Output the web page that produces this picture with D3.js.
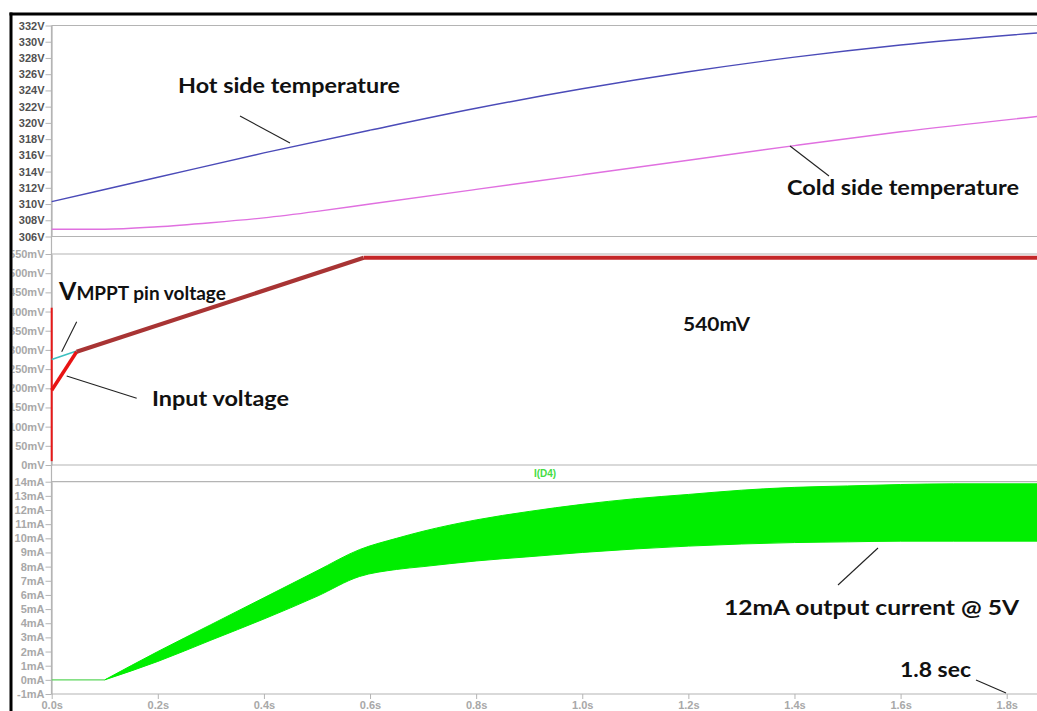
<!DOCTYPE html>
<html>
<head>
<meta charset="utf-8">
<script src="https://cdn.jsdelivr.net/npm/d3@7"></script>
<style>
  html, body { margin: 0; padding: 0; background: #fff; }
  svg { display: block; }
  .tick text { font-family: "Liberation Sans", Arial, sans-serif; font-size: 11px; font-weight: bold; }
  .note { font-family: Lato, "Open Sans", sans-serif; font-weight: bold; fill: #111; }
</style>
</head>
<body>
<svg id="chart" width="1037" height="711"></svg>
<script>
// ---- Time axis ----
const timeTicks = [0, 0.2, 0.4, 0.6, 0.8, 1.0, 1.2, 1.4, 1.6, 1.8];

// ---- Panel 1: thermal node voltages (V) ----
const tempTicks = [306, 308, 310, 312, 314, 316, 318, 320, 322, 324, 326, 328, 330, 332];
const hotT   = [0, 0.2, 0.4, 0.6, 0.8, 1.0, 1.2, 1.4, 1.6, 1.86];
const hotV   = [310.3, 313.3, 316.3, 319.1, 321.8, 324.2, 326.3, 328.1, 329.6, 331.1];
const coldT  = [0, 0.1, 0.2, 0.3, 0.4, 0.5, 0.6, 0.8, 1.0, 1.2, 1.4, 1.6, 1.86];
const coldV  = [306.9, 306.9, 307.2, 307.7, 308.3, 309.1, 310.0, 311.8, 313.6, 315.4, 317.2, 318.9, 320.8];

// ---- Panel 2: input / VMPPT voltage (mV) ----
const mvTicks  = [0, 50, 100, 150, 200, 250, 300, 350, 400, 450, 500, 550];
const spikeT   = [0, 0];
const spikeV   = [10, 410];
const mpptT    = [0, 0.047];
const mpptV    = [275, 297];
const vinEarlyT = [0, 0.047];
const vinEarlyV = [195, 295];
const vinRampT = [0.047, 0.588];
const vinRampV = [295, 540];
const vinFlatT = [0.588, 1.86];
const vinFlatV = [540, 540];

// ---- Panel 3: I(D4) output current (mA) ----
const maTicks = [-1, 0, 1, 2, 3, 4, 5, 6, 7, 8, 9, 10, 11, 12, 13, 14];
const idleT = [0, 0.1];
const idleI = [0, 0];
const bandT  = [0.1, 0.2, 0.3, 0.4, 0.5, 0.58, 0.65, 0.7, 0.8, 0.9, 1.0, 1.1, 1.2, 1.3, 1.4, 1.5, 1.6, 1.7, 1.86];
const bandHi = [0, 2.0, 3.9, 5.8, 7.7, 9.2, 10.0, 10.5, 11.3, 11.9, 12.4, 12.8, 13.1, 13.4, 13.6, 13.7, 13.8, 13.85, 13.85];
const bandLo = [0, 1.3, 2.8, 4.3, 5.9, 7.3, 7.8, 8.0, 8.4, 8.7, 9.0, 9.25, 9.45, 9.6, 9.7, 9.75, 9.8, 9.8, 9.8];

const W = 1037, H = 711;
const svg = d3.select("#chart");

const x = d3.scaleLinear().domain([0, 1.8]).range([51.7, 1006.7]);
const yTemp = d3.scaleLinear().domain([306, 332]).range([236.5, 25.5]);
const yMv   = d3.scaleLinear().domain([0, 550]).range([465, 254]);
const yMa   = d3.scaleLinear().domain([-1, 14]).range([694, 481.7]);

const defs = svg.append("defs");
defs.append("clipPath").attr("id", "frameClip")
  .append("rect").attr("x", 12.5).attr("y", 15.5).attr("width", W).attr("height", H);
defs.append("clipPath").attr("id", "plotClip")
  .append("rect").attr("x", 50).attr("y", 15.5).attr("width", W).attr("height", H);

const root = svg.append("g").attr("clip-path", "url(#frameClip)");

const gridGray = "#b4b4b4";

// Panel frames (top and bottom edges; the left edge comes from each axis)
function panelFrame(y0, y1) {
  [y0, y1].forEach(yy => {
    root.append("line").attr("x1", 51.5).attr("x2", W + 5)
      .attr("y1", yy).attr("y2", yy)
      .attr("stroke", gridGray).attr("stroke-width", 1.2);
  });
}
panelFrame(yTemp(332), yTemp(306));
panelFrame(yMv(550), yMv(0));
panelFrame(yMa(14), yMa(-1));

function leftAxis(scale, values, fmt, color) {
  const g = root.append("g").attr("transform", "translate(51.5,0)")
    .call(d3.axisLeft(scale).tickValues(values).tickFormat(fmt).tickSize(6).tickPadding(1).tickSizeOuter(0));
  g.select(".domain").attr("stroke", gridGray).attr("stroke-width", 1.2);
  g.selectAll(".tick line").attr("stroke", gridGray);
  g.selectAll(".tick text").attr("fill", color);
  return g;
}
leftAxis(yTemp, tempTicks, d => d + "V", "#505050");
leftAxis(yMv, mvTicks, d => d + "mV", "#a8a8a8");
leftAxis(yMa, maTicks, d => d + "mA", "#a8a8a8");

const xg = root.append("g").attr("transform", `translate(0,${yMa(-1)})`)
  .call(d3.axisBottom(x).tickValues(timeTicks).tickFormat(d => d.toFixed(1) + "s").tickSize(5).tickPadding(2).tickSizeOuter(0));
xg.select(".domain").remove();
xg.selectAll(".tick line").attr("stroke", gridGray);
xg.selectAll(".tick text").attr("fill", "#a8a8a8");

// shared left edge of the three panels
root.append("line").attr("x1", 51.5).attr("x2", 51.5)
  .attr("y1", yTemp(332)).attr("y2", yMa(-1)).attr("stroke", gridGray).attr("stroke-width", 1.2);

const plot = root.append("g").attr("clip-path", "url(#plotClip)");

function pts(ts, vs) { return ts.map((t, i) => [t, vs[i]]); }

// ---- Temperature traces ----
const tempLine = d3.line().x(d => x(d[0])).y(d => yTemp(d[1])).curve(d3.curveMonotoneX);
plot.append("path").attr("d", tempLine(pts(hotT, hotV)))
  .attr("fill", "none").attr("stroke", "#4b4bb8").attr("stroke-width", 1.4);
plot.append("path").attr("d", tempLine(pts(coldT, coldV)))
  .attr("fill", "none").attr("stroke", "#e070e0").attr("stroke-width", 1.4);

// ---- Voltage traces ----
const mvLine = d3.line().x(d => x(d[0])).y(d => yMv(d[1]));
plot.append("path").attr("d", mvLine(pts(spikeT, spikeV)))
  .attr("fill", "none").attr("stroke", "#e81818").attr("stroke-width", 2);
plot.append("path").attr("d", mvLine(pts(mpptT, mpptV)))
  .attr("fill", "none").attr("stroke", "#3cc0c0").attr("stroke-width", 1.5);
plot.append("path").attr("d", mvLine(pts(vinEarlyT, vinEarlyV)))
  .attr("fill", "none").attr("stroke", "#e81414").attr("stroke-width", 3.5);
plot.append("path").attr("d", mvLine(pts(vinRampT, vinRampV)))
  .attr("fill", "none").attr("stroke", "#a83434").attr("stroke-width", 4.2);
plot.append("path").attr("d", mvLine(pts(vinFlatT, vinFlatV)))
  .attr("fill", "none").attr("stroke", "#c42628").attr("stroke-width", 4);

// ---- Output current ----
const maLine = d3.line().x(d => x(d[0])).y(d => yMa(d[1]));
plot.append("path").attr("d", maLine(pts(idleT, idleI)))
  .attr("fill", "none").attr("stroke", "#5cd65c").attr("stroke-width", 1.3);
const band = d3.area()
  .x(d => x(d[0])).y0(d => yMa(d[1])).y1(d => yMa(d[2]))
  .curve(d3.curveMonotoneX);
plot.append("path")
  .attr("d", band(bandT.map((t, i) => [t, bandLo[i], bandHi[i]])))
  .attr("fill", "#00ee00").attr("stroke", "#00ee00").attr("stroke-width", 1);

root.append("text").attr("x", 545).attr("y", 476.5).attr("text-anchor", "middle")
  .attr("font-family", "Liberation Sans, Arial, sans-serif").attr("font-size", 10)
  .attr("font-weight", "bold").attr("fill", "#44dd44").text("I(D4)");

// ---- Annotations ----
function note(txt, x0, base, size, width) {
  return root.append("text").attr("class", "note").attr("x", x0).attr("y", base)
    .attr("font-size", size).attr("textLength", width).attr("lengthAdjust", "spacingAndGlyphs").text(txt);
}
function pointer(x1, y1, x2, y2) {
  root.append("line").attr("x1", x1).attr("y1", y1).attr("x2", x2).attr("y2", y2)
    .attr("stroke", "#222").attr("stroke-width", 1.1);
}

note("Hot side temperature", 178, 93, 21, 222);
pointer(240, 116, 290, 143);

note("Cold side temperature", 787, 195, 21, 232);
pointer(790, 146, 829, 176);

const vm = root.append("text").attr("class", "note").attr("x", 59).attr("y", 300);
vm.append("tspan").attr("font-size", 25).text("V");
vm.append("tspan").attr("font-size", 19).text("MPPT pin voltage");
pointer(76.7, 321.7, 61.7, 351.7);

note("Input voltage", 152, 406, 21, 137);
pointer(66.7, 376, 136.7, 398.3);

note("540mV", 683, 331, 19, 67);

note("12mA output current @ 5V", 724, 615, 21, 295);
pointer(838, 585, 878, 548);

note("1.8 sec", 900, 677, 21, 71);
pointer(976, 680, 1006, 693);

// Outer black frame
svg.append("line").attr("x1", 9.5).attr("x2", W).attr("y1", 14).attr("y2", 14)
  .attr("stroke", "#000").attr("stroke-width", 3);
svg.append("line").attr("x1", 11).attr("x2", 11).attr("y1", 12.5).attr("y2", H)
  .attr("stroke", "#000").attr("stroke-width", 3);
</script>
</body>
</html>
